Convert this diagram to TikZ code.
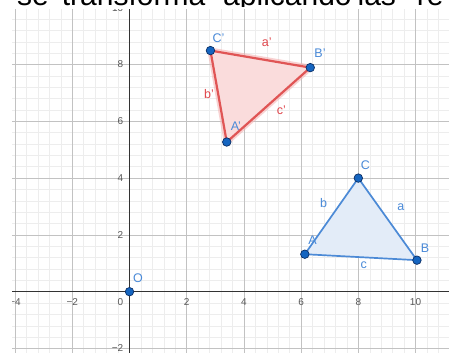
\documentclass[tikz,border=0pt]{standalone}
\usepackage{fontspec}
\setmainfont{Liberation Sans}
\definecolor{bluelbl}{HTML}{4A8AD8}
\definecolor{blueedge}{HTML}{4C8AD6}
\definecolor{bluefill}{HTML}{E3ECF8}
\definecolor{rededge}{HTML}{E05555}
\definecolor{redglow}{HTML}{F4B4B4}
\definecolor{redfill}{HTML}{FADCDC}
\definecolor{redlbl}{HTML}{E0474C}
\definecolor{ptfill}{HTML}{1565C0}
\definecolor{ptdraw}{HTML}{0B2F66}
\begin{document}
\begin{tikzpicture}[x=28.6pt,y=28.4pt,
  minorgrid/.style={draw=black!7,line width=0.5pt},
  majorgrid/.style={draw=black!24,line width=0.7pt},
  axisline/.style={draw=black!80,line width=0.9pt},
  ticklbl/.style={font=\fontsize{10}{11}\selectfont,text=black!65,inner sep=0pt},
  ptlbl/.style={font=\fontsize{12.5}{13}\selectfont,text=bluelbl,inner sep=0pt},
  redtxt/.style={font=\fontsize{12.5}{13}\selectfont,text=redlbl,inner sep=0pt},
  vertex/.style={circle,fill=ptfill,draw=ptdraw,line width=0.7pt,minimum size=8.5pt,inner sep=0pt},
  bluetri/.style={draw=blueedge,line width=1.7pt,fill=bluefill,line join=round},
  redtri/.style={draw=rededge,line width=2.2pt,fill=redfill,line join=round},
  redhalo/.style={draw=redglow,line width=6pt,line join=round,opacity=0.6}]
\useasboundingbox (-4.528,-2.158) rectangle (11.171,10.271);
\fill[white] (-4.528,-2.158) rectangle (11.171,10.271);
% cut-off title text
\begin{scope}
\clip (-4.528,10.05) rectangle (11.171,10.271);
\node[anchor=base west,inner sep=0pt,font=\fontsize{30}{30}\selectfont] (title) at (-3.934,10.08)
  {se\hspace{13pt}transforma\hspace{18pt}aplicando\hspace{6pt}las\hspace{21pt}re};
\end{scope}
% graphics view
\begin{scope}
\clip (-4.108,-2.158) rectangle (11.171,9.919);
\draw[minorgrid,step=0.4] (-4.8,-2.8) grid (11.6,10.4);
\draw[majorgrid,step=2] (-6,-4) grid (12,12);
\draw[axisline] (-4.2,0) -- (11.3,0);
\draw[axisline] (0,-2.3) -- (0,10.4);
\foreach \v/\t in {-4/−4,-2/−2,2/2,4/4,6/6,8/8,10/10}
  \node[ticklbl] (xt\v) at (\v,-0.352) {\t};
\node[ticklbl,anchor=east] (xt0) at (-0.21,-0.352) {0};
\foreach \v/\t in {-2/−2,2/2,4/4,6/6,8/8,10/10}
  \node[ticklbl,anchor=east] (yt\v) at (-0.21,\v) {\t};
\end{scope}
% vertices
\coordinate (A) at (6.13,1.32);
\coordinate (B) at (10.05,1.11);
\coordinate (C) at (8.0,4.0);
\coordinate (A') at (3.40,5.27);
\coordinate (B') at (6.32,7.89);
\coordinate (C') at (2.83,8.49);
\coordinate (O) at (0,0);
% triangles
\draw[bluetri] (A) -- (B) -- (C) -- cycle;
\draw[redhalo] (A') -- (B') -- (C') -- cycle;
\draw[redtri] (A') -- (B') -- (C') -- cycle;
% edge labels
\node[ptlbl] (la) at (9.49,2.96) {a};
\node[ptlbl] (lb) at (6.79,3.11) {b};
\node[ptlbl] (lc) at (8.19,0.92) {c};
\node[redtxt] (la') at (4.80,8.79) {a'};
\node[redtxt] (lb') at (2.78,6.96) {b'};
\node[redtxt] (lc') at (5.31,6.40) {c'};
% points
\foreach \p in {A,B,C,A',B',C',O}
  \node[vertex] (pt\p) at (\p) {};
% point labels
\node[ptlbl] (nO) at (0.30,0.46) {O};
\node[ptlbl] (nA) at (6.40,1.82) {A};
\node[ptlbl] (nB) at (10.33,1.54) {B};
\node[ptlbl] (nC) at (8.25,4.47) {C};
\node[ptlbl] (nA') at (3.72,5.81) {A'};
\node[ptlbl] (nB') at (6.66,8.41) {B'};
\node[ptlbl] (nC') at (3.11,8.93) {C'};
\end{tikzpicture}
\end{document}
